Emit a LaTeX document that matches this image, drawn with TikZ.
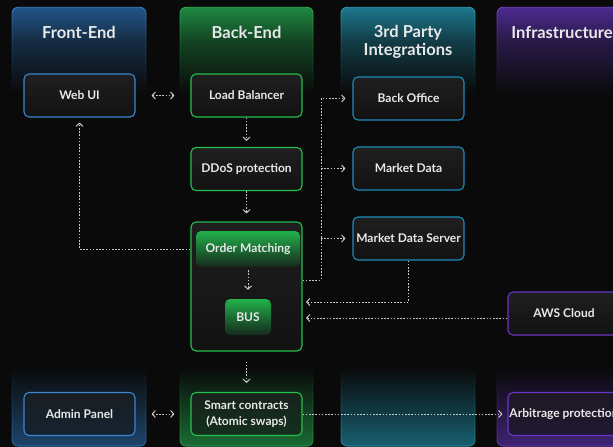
\documentclass[tikz,border=0pt]{standalone}
\usepackage{fontspec}
\setmainfont{Lato}
\usetikzlibrary{arrows.meta,fadings,calc}

% palette
\definecolor{bgc}{HTML}{0A0A0A}
\definecolor{txt}{HTML}{E8E8E8}
\definecolor{lnC}{HTML}{C8C8C8}
\definecolor{feC}{HTML}{23568A}
\definecolor{feL}{HTML}{3F7FC2}
\definecolor{feB}{HTML}{3C86CF}
\definecolor{beC}{HTML}{1F8A42}
\definecolor{beL}{HTML}{2FB255}
\definecolor{beB}{HTML}{25C04E}
\definecolor{tpC}{HTML}{1D7A90}
\definecolor{tpL}{HTML}{2E9FB8}
\definecolor{tpB}{HTML}{1C8DBA}
\definecolor{inC}{HTML}{4F2C92}
\definecolor{inL}{HTML}{7446C8}
\definecolor{inB}{HTML}{6A34C8}
\definecolor{boxT}{HTML}{1F1F1F}
\definecolor{boxB}{HTML}{121212}
\definecolor{barT}{HTML}{22B14B}
\definecolor{barB}{HTML}{16291C}

% column mask: strong at the header, clear in the middle, back again at the foot
\pgfdeclareverticalshading{colmaskshade}{100bp}{%
  color(0bp)=(white!78!black); color(25bp)=(white!78!black);
  color(34bp)=(black); color(65bp)=(black);
  color(71bp)=(white!45!black); color(75bp)=(white); color(100bp)=(white)}
\pgfdeclarefading{colfade}{\pgfuseshading{colmaskshade}}

\tikzset{
  col/.style={rounded corners=6pt, path fading=colfade, fit fading=true},
  hdr/.style={text=txt, font=\bfseries\fontsize{16.5}{18}\selectfont, align=center},
  box/.style={draw, line width=1.1pt, rounded corners=5pt, top color=boxT,
    bottom color=boxB, minimum width=111pt, minimum height=43pt, text=txt,
    font=\bfseries\fontsize{12}{16}\selectfont, align=center, inner sep=1pt},
  low/.style={fill opacity=0.6, text opacity=1},
  fe/.style={box, draw=feB},
  be/.style={box, draw=beB},
  tp/.style={box, draw=tpB},
  inf/.style={box, draw=inB},
  bar/.style={rounded corners=5pt, top color=barT, bottom color=barB, text=txt,
    font=\bfseries\fontsize{12}{14}\selectfont, inner sep=1pt},
  conn/.style={draw=lnC, line width=1pt, dash pattern=on 1.6pt off 1.6pt},
  arr/.style={-{Straight Barb[length=3.2pt,width=7pt]}},
  darr/.style={{Straight Barb[length=3.2pt,width=7pt]}-{Straight Barb[length=3.2pt,width=7pt]}},
}

\begin{document}
\begin{tikzpicture}[x=1pt,y=-1pt]
\useasboundingbox (0,0) rectangle (613,447);
\fill[bgc] (0,0) rectangle (613,447);
\clip (0,0) rectangle (613,447);

% columns
\fill[feC, col] (12,7) rectangle (146,446);
\draw[feL, col, line width=0.8pt] (12,7) rectangle (146,446);
\fill[beC, col] (180,7) rectangle (313,446);
\draw[beL, col, line width=0.8pt] (180,7) rectangle (313,446);
\fill[tpC, col] (341,7) rectangle (475,446);
\draw[tpL, col, line width=0.8pt] (341,7) rectangle (475,446);
\fill[inC, col] (497,7) rectangle (640,446);
\draw[inL, col, line width=0.8pt] (497,7) rectangle (640,446);

% column titles
\node[hdr] (hFE) at (79,32) {Front-End};
\node[hdr] (hBE) at (246.5,32) {Back-End};
\node[hdr] (hTP) at (408,42) {3rd Party\\Integrations};
\node[hdr] (hIN) at (562,32) {Infrastructure};

% blocks
\node[fe] (webui) at (79.5,95.5) {Web UI};
\node[be] (lb) at (246.5,95.5) {Load Balancer};
\node[be] (ddos) at (246.5,169) {DDoS protection};
\node[be, minimum height=129pt] (om) at (246.5,286.5) {};
\node[bar, minimum width=104pt, minimum height=36pt] (omb) at (248,249) {Order Matching};
\node[bar, minimum width=46pt, minimum height=36pt] (bus) at (248,317) {BUS};
\node[tp] (bo) at (408.5,98.5) {Back Office};
\node[tp] (md) at (408.5,168.5) {Market Data};
\node[tp] (mds) at (408.5,238.5) {Market Data Server};
\node[inf, minimum width=112pt] (aws) at (564,313.5) {AWS Cloud};
\node[fe, low] (admin) at (79.5,414) {Admin Panel};
\node[be, low] (smart) at (246.5,414) {Smart contracts\\(Atomic swaps)};
\node[inf, low, minimum width=112pt] (arb) at (564,414) {Arbitrage protection};

% junction points
\coordinate (tr) at (321,280);
\coordinate (in1) at (302,302);
\coordinate (in2) at (302,318);

% connectors
\draw[conn, darr, shorten <=16pt, shorten >=16pt] (webui.east) -- (lb.west);
\draw[conn, arr, shorten >=6pt] (lb.south) -- (ddos.north);
\draw[conn, arr, shorten >=8pt] (ddos.south) -- (om.north);
\draw[conn, arr, shorten >=5pt] (om.west |- omb) -| (webui.south);
\draw[conn, arr, shorten >=7pt] (om.east |- tr) -- (tr) |- (bo.west);
\draw[conn, arr, shorten >=7pt] (tr |- md) -- (md.west);
\draw[conn, arr, shorten >=7pt] (tr |- mds) -- (mds.west);
\draw[conn, arr, shorten >=4pt] (mds.south) |- (in1);
\draw[conn, arr, shorten >=4pt] (aws.west |- in2) -- (in2);
\draw[conn, arr, shorten <=3pt, shorten >=9pt] (omb.south) -- (bus.north);
\draw[conn, arr, shorten <=10pt, shorten >=9pt] (om.south) -- (smart.north);
\draw[conn, darr, shorten <=16pt, shorten >=16pt] (admin.east) -- (smart.west);
\draw[conn, arr, shorten >=5pt] (smart.east) -- (arb.west);
\end{tikzpicture}
\end{document}
